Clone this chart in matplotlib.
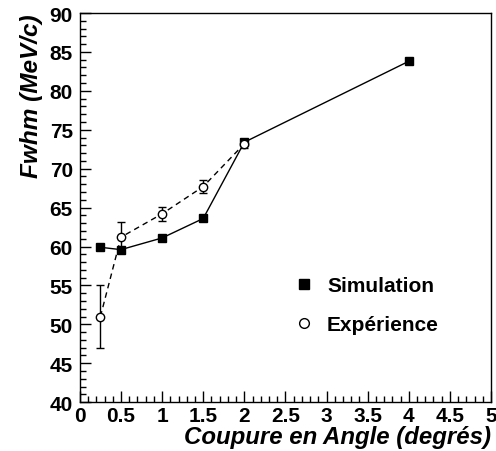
import matplotlib
matplotlib.use("Agg")
import matplotlib.pyplot as plt
from matplotlib.ticker import MultipleLocator
from matplotlib.lines import Line2D

# Simulation values
sim_x = [0.25, 0.5, 1.0, 1.5, 2.0, 4.0]
sim_y = [59.9, 59.6, 61.1, 63.6, 73.4, 83.8]

# Experimental values with uncertainties
exp_x = [0.25, 0.5, 1.0, 1.5, 2.0]
exp_y = [51.0, 61.2, 64.2, 67.7, 73.2]
exp_err = [4.0, 2.0, 0.9, 0.8, 0.6]

x_ticks = [0, 0.5, 1, 1.5, 2, 2.5, 3, 3.5, 4, 4.5, 5]
x_ticklabels = ['0', '0.5', '1', '1.5', '2', '2.5', '3', '3.5', '4', '4.5', '5']

plt.rcParams['font.family'] = ['Liberation Sans', 'DejaVu Sans']
plt.rcParams['font.weight'] = 'bold'

fig = plt.figure(figsize=(4.96, 4.52), dpi=100)
ax = fig.add_axes([0.161, 0.108, 0.829, 0.861])

ax.plot(sim_x, sim_y, '-', color='black', lw=1.0, marker='s', ms=5.5,
        mfc='black', mec='black')
ax.errorbar(exp_x, exp_y, yerr=exp_err, fmt='o', ls='--', color='black',
            lw=1.0, ms=6, mfc='white', mec='black', mew=1.0,
            capsize=3, capthick=1.0, elinewidth=1.0, dashes=(4, 3))

ax.set_xlim(0, 5)
ax.set_ylim(40, 90)
ax.set_xticks(x_ticks)
ax.set_xticklabels(x_ticklabels)
ax.xaxis.set_minor_locator(MultipleLocator(0.1))
ax.yaxis.set_major_locator(MultipleLocator(5))
ax.yaxis.set_minor_locator(MultipleLocator(1))

ax.tick_params(axis='both', which='major', direction='in', length=8, width=1,
               labelsize=15)
ax.tick_params(axis='x', which='major', pad=3)
ax.tick_params(axis='y', which='major', pad=5)
ax.tick_params(axis='both', which='minor', direction='in', length=4, width=1)
for lab in ax.get_xticklabels() + ax.get_yticklabels():
    lab.set_fontweight('bold')
for sp in ax.spines.values():
    sp.set_linewidth(1.0)

ax.set_xlabel('Coupure en Angle (degrés)', fontsize=17.3, fontstyle='italic',
              fontweight='bold', loc='right', labelpad=0)
ax.set_ylabel('Fwhm (MeV/c)', fontsize=17.6, fontstyle='italic',
              fontweight='bold', loc='top', labelpad=5)

handles = [
    Line2D([], [], ls='None', marker='s', ms=6.5, mfc='black', mec='black'),
    Line2D([], [], ls='None', marker='o', ms=7, mfc='white', mec='black', mew=1.0),
]
leg = ax.legend(handles, ['Simulation', 'Expérience'], loc='upper left',
                bbox_to_anchor=(0.50, 0.345), frameon=False, fontsize=15,
                handlelength=1.0, handletextpad=0.6, labelspacing=0.95,
                numpoints=1, borderaxespad=0)
for t in leg.get_texts():
    t.set_fontweight('bold')

fig.savefig('out.png', dpi=100)
